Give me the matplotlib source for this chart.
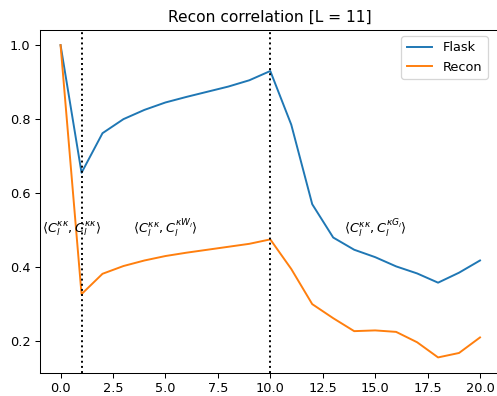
import matplotlib
matplotlib.use("Agg")
import matplotlib.pyplot as plt
import numpy as np

ell = np.arange(21)
flask = [1.0, 0.655, 0.762, 0.800, 0.825, 0.845, 0.860, 0.874, 0.888, 0.905, 0.930,
         0.785, 0.570, 0.480, 0.447, 0.427, 0.402, 0.383, 0.358, 0.385, 0.418]
recon = [1.0, 0.327, 0.382, 0.403, 0.418, 0.430, 0.439, 0.447, 0.455, 0.463, 0.475,
         0.395, 0.300, 0.262, 0.227, 0.229, 0.225, 0.197, 0.156, 0.168, 0.210]
bounds = [1, 10]
labels = [r"$\langle C_l^{\kappa\kappa}, C_l^{\kappa\kappa}\rangle$",
          r"$\langle C_l^{\kappa\kappa}, C_l^{\kappa W_l}\rangle$",
          r"$\langle C_l^{\kappa\kappa}, C_l^{\kappa G_l}\rangle$"]
label_x = [-0.9, 3.45, 13.5]

# reference looks like a default figure shrunk a little, so render at a lower dpi
DPI = 93
fig, ax = plt.subplots(figsize=(498 / DPI, 396 / DPI), dpi=DPI)
# the original is cropped on the right, so the right spine sits just off-canvas
fig.subplots_adjust(left=0.0795, right=1.006, top=0.9255, bottom=0.058)
ax.plot(ell, flask, label="Flask")
ax.plot(ell, recon, label="Recon")
for b in bounds:
    ax.axvline(b, color="black", linestyle=":")
for x, t in zip(label_x, labels):
    ax.text(x, 0.493, t)
ax.set_title("Recon correlation [L = 11]")
ax.legend(loc="upper right", bbox_to_anchor=(0.985, 1.0))
fig.savefig("out.png", dpi=DPI)
